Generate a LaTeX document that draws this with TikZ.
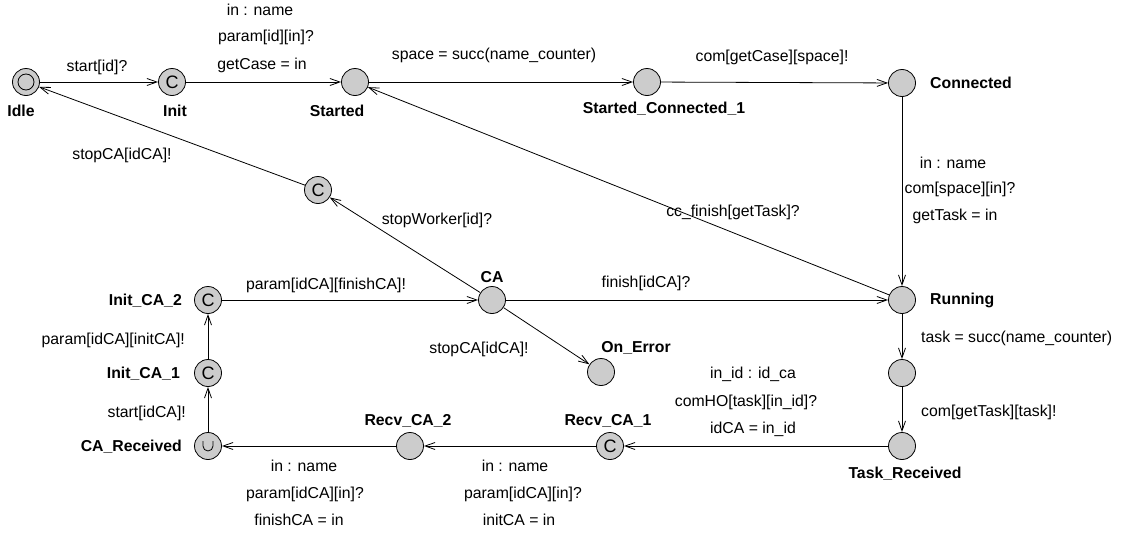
\documentclass[tikz,border=0pt]{standalone}
\usepackage{fontspec}
\setmainfont{Liberation Sans}
\usetikzlibrary{arrows.meta}
\begin{document}
\begin{tikzpicture}[x=1pt,y=-1pt,
  every node/.style={font=\fontsize{15.8}{18}\selectfont, inner sep=0pt},
  loc/.style={circle, draw=black, line width=0.8pt, fill=black!20, minimum size=27pt, inner sep=0pt},
  committed/.style={loc, font=\fontsize{18}{18}\selectfont, text height=12.5pt, text depth=0pt},
  lname/.style={font=\fontsize{15.8}{18}\selectfont\bfseries},
  elabel/.style={},
  edge/.style={line width=0.8pt, -{Straight Barb[length=10pt,width=7pt,line width=0.8pt]}}
  ]
\useasboundingbox (0,0) rectangle (1125,533);
% locations
\node[loc] (idle) at (26,82) {};
\draw[line width=0.8pt] (idle.center) circle[radius=8];
\node[committed] (init) at (172,82) {C};
\node[loc] (started) at (355,82) {};
\node[loc] (sc1) at (647,82) {};
\node[loc] (connected) at (902,83) {};
\node[loc] (running) at (902,300) {};
\node[loc] (mid) at (902,373) {};
\node[loc] (taskrec) at (902,446) {};
\node[committed] (recv1) at (610,446) {C};
\node[loc] (recv2) at (410,446) {};
\node[loc] (carec) at (208,446) {};
\draw[line width=0.8pt] ([shift={(-5,-5)}]carec.center) -- ++(0,5) arc[start angle=180,end angle=0,radius=5] -- ++(0,-5);
\node[committed] (initca1) at (208,373) {C};
\node[committed] (initca2) at (208,300) {C};
\node[loc] (ca) at (492,300) {};
\node[loc] (onerror) at (601,372) {};
\node[committed] (cstop) at (318,190) {C};
% location names
\node[lname] (nidle) at (21,111) {Idle};
\node[lname] (ninit) at (175,111) {Init};
\node[lname] (nstarted) at (337,111) {Started};
\node[lname] (nsc1) at (664,109) {Started\_Connected\_1};
\node[lname, anchor=west] (nconnected) at (930,83) {Connected};
\node[lname, anchor=west] (nrunning) at (930,300) {Running};
\node[lname] (ntaskrec) at (905,474) {Task\_Received};
\node[lname] (nrecv1) at (608,421) {Recv\_CA\_1};
\node[lname] (nrecv2) at (408,421) {Recv\_CA\_2};
\node[lname, anchor=east] (ncarec) at (182,447) {CA\_Received};
\node[lname, anchor=east] (ninitca1) at (180,374) {Init\_CA\_1};
\node[lname, anchor=east] (ninitca2) at (182,301) {Init\_CA\_2};
\node[lname] (nca) at (492,277) {CA};
\node[lname] (nonerror) at (636,348) {On\_Error};
% edges
\draw[edge] (idle) -- (init);
\draw[edge] (init) -- (started);
\draw[edge] (started) -- (sc1);
\draw[edge] (sc1) -- (connected);
\draw[edge] (connected) -- (running);
\draw[edge] (running) -- (started);
\draw[edge] (running) -- (mid);
\draw[edge] (mid) -- (taskrec);
\draw[edge] (taskrec) -- (recv1);
\draw[edge] (recv1) -- (recv2);
\draw[edge] (recv2) -- (carec);
\draw[edge] (carec) -- (initca1);
\draw[edge] (initca1) -- (initca2);
\draw[edge] (initca2) -- (ca);
\draw[edge] (ca) -- (running);
\draw[edge] (ca) -- (onerror);
\draw[edge] (ca) -- (cstop);
\draw[edge] (cstop) -- (idle);
% edge labels
\node[elabel] (l1) at (97,67) {start[id]?};
\node[elabel] (l2a) at (260,10) {in : name};
\node[elabel] (l2b) at (266,37) {param[id][in]?};
\node[elabel] (l2c) at (262,65) {getCase = in};
\node[elabel] (l3) at (494,55) {space = succ(name\_counter)};
\node[elabel] (l4) at (772,57) {com[getCase][space]!};
\node[elabel] (l5a) at (953,163) {in : name};
\node[elabel] (l5b) at (960,189) {com[space][in]?};
\node[elabel] (l5c) at (955,216) {getTask = in};
\node[elabel] (l6) at (733,212) {cc\_finish[getTask]?};
\node[elabel, anchor=west] (l7) at (921,338) {task = succ(name\_counter)};
\node[elabel, anchor=west] (l8) at (921,412) {com[getTask][task]!};
\node[elabel] (l9a) at (753,374) {in\_id : id\_ca};
\node[elabel] (l9b) at (746,402) {comHO[task][in\_id]?};
\node[elabel] (l9c) at (753,429) {idCA = in\_id};
\node[elabel] (l10a) at (515,466) {in : name};
\node[elabel] (l10b) at (523,494) {param[idCA][in]?};
\node[elabel] (l10c) at (519,520) {initCA = in};
\node[elabel] (l11a) at (304,466) {in : name};
\node[elabel] (l11b) at (305,494) {param[idCA][in]?};
\node[elabel] (l11c) at (299,520) {finishCA = in};
\node[elabel, anchor=east] (l12) at (186,413) {start[idCA]!};
\node[elabel, anchor=east] (l13) at (185,340) {param[idCA][initCA]!};
\node[elabel] (l14) at (326,285) {param[idCA][finishCA]!};
\node[elabel] (l15) at (646,283) {finish[idCA]?};
\node[elabel] (l16) at (479,349) {stopCA[idCA]!};
\node[elabel] (l17) at (437,220) {stopWorker[id]?};
\node[elabel] (l18) at (122,155) {stopCA[idCA]!};
\end{tikzpicture}
\end{document}
